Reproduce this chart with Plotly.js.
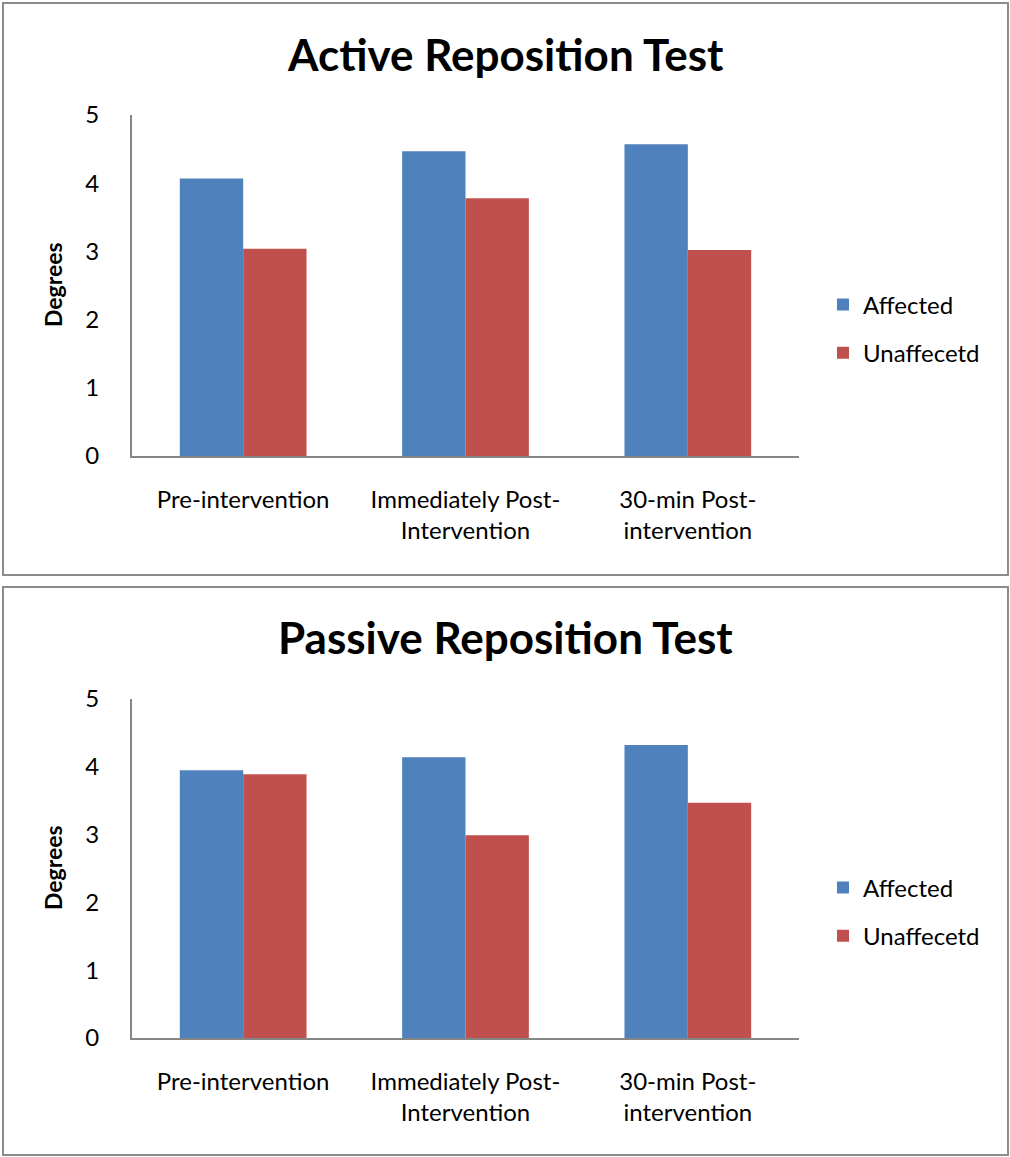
<!DOCTYPE html>
<html>
<head>
<meta charset="utf-8">
<script src="https://cdn.plot.ly/plotly-3.0.1.min.js"></script>
<style>
  html, body { margin: 0; padding: 0; background: #ffffff; }
  #chart { width: 1010px; height: 1157px; }
</style>
</head>
<body>
<div id="chart"></div>
<script>
// ---- data ----
const categories = ["Pre-intervention", "Immediately Post-<br>Intervention", "30-min Post-<br>intervention"];
const seriesNames = ["Affected", "Unaffecetd"];
const activeAffected = [4.07, 4.47, 4.57];
const activeUnaffected = [3.04, 3.78, 3.02];
const passiveAffected = [3.95, 4.14, 4.32];
const passiveUnaffected = [3.89, 2.99, 3.47];
const chartTitles = ["Active Reposition Test", "Passive Reposition Test"];
const yAxisTitle = "Degrees";
const yTickValues = [0, 1, 2, 3, 4, 5];

// ---- style ----
const BLUE = "#4F81BD";
const RED = "#C0504D";
const AXIS = "#868686";
const FONT = "Lato, 'Open Sans', sans-serif";
const W = 1010, H = 1157;
const px = v => v / W;
const py = v => 1 - v / H;

function bar(name, y, color, xa, ya, legend, group) {
  return {
    type: "bar", name: name, x: categories, y: y,
    xaxis: xa, yaxis: ya, legend: legend, legendgroup: group,
    marker: { color: color, line: { width: 0 } },
    hoverinfo: "x+y+name"
  };
}

const data = [
  bar(seriesNames[0], activeAffected, BLUE, "x", "y", "legend", "a1"),
  bar(seriesNames[1], activeUnaffected, RED, "x", "y", "legend", "b1"),
  bar(seriesNames[0], passiveAffected, BLUE, "x2", "y2", "legend2", "a2"),
  bar(seriesNames[1], passiveUnaffected, RED, "x2", "y2", "legend2", "b2")
];

const xaxisBase = {
  domain: [px(132), px(799)],
  showline: true, linecolor: AXIS, linewidth: 2,
  showgrid: false, zeroline: false, ticks: "",
  tickfont: { family: FONT, size: 24, color: "#000" },
  ticklabelstandoff: 21,
  fixedrange: true
};
const yaxisBase = {
  range: [0, 5], tickvals: yTickValues,
  showline: true, linecolor: AXIS, linewidth: 2,
  showgrid: false, zeroline: false, ticks: "",
  tickfont: { family: FONT, size: 24, color: "#000" },
  ticklabelstandoff: 26,
  fixedrange: true
};

const legendBase = {
  font: { family: FONT, size: 24, color: "#000" },
  xanchor: "left", yanchor: "middle",
  traceorder: "grouped", tracegroupgap: 14,
  bgcolor: "rgba(0,0,0,0)", itemclick: false, itemdoubleclick: false
};

const layout = {
  width: W, height: H,
  margin: { l: 0, r: 0, t: 0, b: 0 },
  paper_bgcolor: "#ffffff", plot_bgcolor: "#ffffff",
  barmode: "group", bargap: 0.43, bargroupgap: 0,
  showlegend: true,
  xaxis: Object.assign({}, xaxisBase, { anchor: "y" }),
  yaxis: Object.assign({}, yaxisBase, { anchor: "x", domain: [py(456), py(115)] }),
  xaxis2: Object.assign({}, xaxisBase, { anchor: "y2" }),
  yaxis2: Object.assign({}, yaxisBase, { anchor: "x2", domain: [py(1038), py(699)] }),
  legend: Object.assign({}, legendBase, { x: px(823), y: py(329) }),
  legend2: Object.assign({}, legendBase, { x: px(823), y: py(912) }),
  annotations: [
    { text: "<b>" + chartTitles[0] + "</b>", xref: "paper", yref: "paper", x: px(505), y: py(54),
      showarrow: false, font: { family: FONT, size: 44, color: "#000" }, xanchor: "center", yanchor: "middle" },
    { text: "<b>" + chartTitles[1] + "</b>", xref: "paper", yref: "paper", x: px(505), y: py(637),
      showarrow: false, font: { family: FONT, size: 44, color: "#000" }, xanchor: "center", yanchor: "middle" },
    { text: "<b>" + yAxisTitle + "</b>", xref: "paper", yref: "paper", x: px(53), y: py(285),
      showarrow: false, textangle: -90, font: { family: FONT, size: 23, color: "#000" }, xanchor: "center", yanchor: "middle" },
    { text: "<b>" + yAxisTitle + "</b>", xref: "paper", yref: "paper", x: px(53), y: py(868),
      showarrow: false, textangle: -90, font: { family: FONT, size: 23, color: "#000" }, xanchor: "center", yanchor: "middle" }
  ],
  shapes: [
    { type: "rect", xref: "paper", yref: "paper", x0: px(3), x1: px(1008), y0: py(575), y1: py(3),
      line: { color: "#8c8c8c", width: 2 }, fillcolor: "rgba(0,0,0,0)", layer: "below" },
    { type: "rect", xref: "paper", yref: "paper", x0: px(3), x1: px(1008), y0: py(1155), y1: py(587),
      line: { color: "#8c8c8c", width: 2 }, fillcolor: "rgba(0,0,0,0)", layer: "below" }
  ]
};

Plotly.newPlot("chart", data, layout, { displayModeBar: false, staticPlot: false });
</script>
</body>
</html>
